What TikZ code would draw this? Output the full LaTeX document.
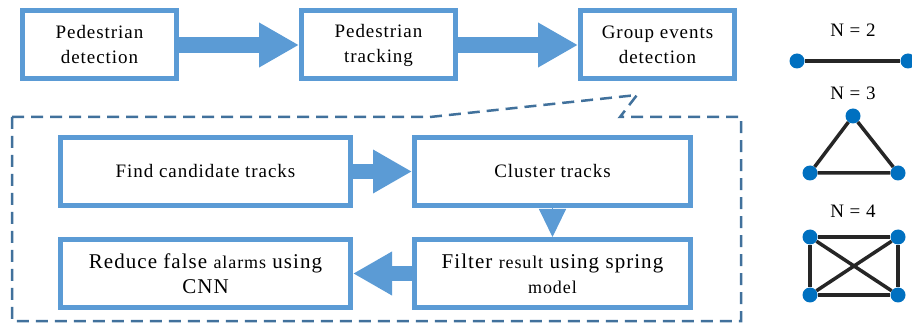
\documentclass[tikz,border=0pt]{standalone}
\usepackage{fontspec}
\setmainfont{Liberation Serif}[LetterSpace=5]
\usetikzlibrary{arrows.meta,positioning}
\definecolor{boxblue}{RGB}{91,155,213}
\definecolor{dashblue}{RGB}{65,113,156}
\definecolor{dotblue}{RGB}{0,112,192}
\definecolor{edgegray}{RGB}{38,38,38}
\newcommand{\fsmain}{\fontsize{19}{25}\selectfont}
\newcommand{\fsbig}{\fontsize{21}{25}\selectfont}
\newcommand{\fssmall}{\fontsize{18}{25}\selectfont}
\tikzset{
  box/.style={draw=boxblue, line width=5pt, rectangle, align=center, font=\fsmain, minimum height=68pt, inner sep=3pt, fill=white},
  bigarr/.style={boxblue, line width=16pt, -{Triangle[length=40pt,width=42pt]}},
  midarr/.style={boxblue, line width=15pt, -{Triangle[length=39pt,width=41pt]}},
  tiparr/.style={boxblue, line width=1pt, -{Triangle[length=28pt,width=27pt]}},
  callout/.style={dashblue, line width=2.5pt, dash pattern=on 12pt off 7pt},
  dot/.style={circle, fill=dotblue, minimum size=15pt, inner sep=0pt},
  gline/.style={edgegray, line width=3.5pt},
  nlbl/.style={font=\fsmain, inner sep=0pt},
}
\begin{document}
\begin{tikzpicture}[x=1pt, y=-1pt]
\useasboundingbox (0,0) rectangle (912,328);
% pipeline
\node[box, minimum width=154pt] (pdet) at (99.5,45) {Pedestrian\\detection};
\node[box, minimum width=154pt, right=120pt of pdet] (ptrk) {Pedestrian\\tracking};
\node[box, minimum width=154pt, right=120pt of ptrk] (gevt) {Group events\\detection};
\draw[bigarr] (pdet) -- (ptrk);
\draw[bigarr] (ptrk) -- (gevt);
% zoomed step
\draw[callout] (12,117) -- (430,117) -- (637,95) -- (620,117) -- (741,117) -- (741,321) -- (12,321) -- cycle;
\node[box, minimum width=290pt] (cand) at (205.5,171.5) {Find candidate tracks};
\node[box, minimum width=276pt, right=59pt of cand] (clus) {Cluster tracks};
\node[box, minimum width=290pt, below=29pt of cand, font=\fsbig] (redu) {Reduce false {\fssmall alarms} using\\CNN};
\node[box, minimum width=276pt, below=29pt of clus, font=\fsbig] (filt) {Filter {\fssmall result} using spring\\{\fssmall model}};
\draw[midarr] (cand) -- (clus);
\draw[tiparr] (clus) -- (filt);
\draw[midarr] (filt) -- (redu);
% groups
\node[nlbl] (lab2) at (853,30) {N = 2};
\node[dot] (n2a) at (797,61) {};
\node[dot] (n2b) at (908,61) {};
\draw[gline] (n2a) -- (n2b);
\node[nlbl] (lab3) at (853,93) {N = 3};
\node[dot] (n3a) at (853,116) {};
\node[dot] (n3b) at (810,173) {};
\node[dot] (n3c) at (898,173) {};
\draw[gline] (n3a) -- (n3b) -- (n3c) -- (n3a);
\node[nlbl] (lab4) at (853,211.5) {N = 4};
\node[dot] (n4a) at (810,237) {};
\node[dot] (n4b) at (898,237) {};
\node[dot] (n4c) at (810,295) {};
\node[dot] (n4d) at (898,295) {};
\draw[gline] (n4a) -- (n4b) -- (n4d) -- (n4c) -- (n4a);
\draw[gline] (n4a) -- (n4d);
\draw[gline] (n4b) -- (n4c);
\end{tikzpicture}
\end{document}
